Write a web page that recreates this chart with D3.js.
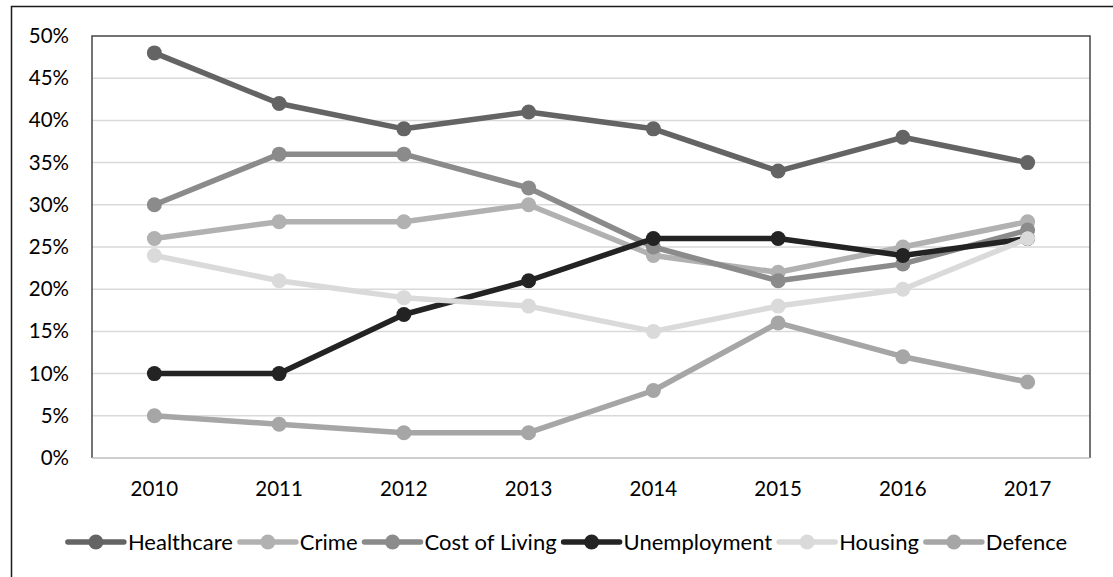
<!DOCTYPE html>
<html>
<head>
<meta charset="utf-8">
<script src="https://cdn.jsdelivr.net/npm/d3@7"></script>
<style>
  html, body { margin: 0; padding: 0; background: #fff; }
  svg { display: block; font-family: Lato, "Open Sans", sans-serif; }
</style>
</head>
<body>
<svg id="chart" width="1113" height="577"></svg>
<script>
// Survey years and share of respondents naming each issue (%)
const years = ["2010", "2011", "2012", "2013", "2014", "2015", "2016", "2017"];
const healthcare   = [48, 42, 39, 41, 39, 34, 38, 35];
const crime        = [26, 28, 28, 30, 24, 22, 25, 28];
const costOfLiving = [30, 36, 36, 32, 25, 21, 23, 27];
const unemployment = [10, 10, 17, 21, 26, 26, 24, 26];
const housing      = [24, 21, 19, 18, 15, 18, 20, 26];
const defence      = [5, 4, 3, 3, 8, 16, 12, 9];
const yTicks = [0, 5, 10, 15, 20, 25, 30, 35, 40, 45, 50];

const series = [
  { name: "Healthcare",     values: healthcare,   color: "#646464" },
  { name: "Crime",          values: crime,        color: "#b1b1b1" },
  { name: "Cost of Living", values: costOfLiving, color: "#8b8b8b" },
  { name: "Unemployment",   values: unemployment, color: "#232323" },
  { name: "Housing",        values: housing,      color: "#dadada" },
  { name: "Defence",        values: defence,      color: "#a6a6a6" }
];

const FONT = 20.5, LEGEND_FONT = 22;
const svg = d3.select("#chart");
const plotL = 92, plotR = 1090, plotT = 36, plotB = 458;

// outer chart frame
svg.append("rect")
  .attr("x", 11.5).attr("y", 6.5)
  .attr("width", 1200).attr("height", 700)
  .attr("fill", "none").attr("stroke", "#1a1a1a").attr("stroke-width", 1.5);

const x = d3.scaleBand().domain(years).range([plotL, plotR]);
const y = d3.scaleLinear().domain([0, 50]).range([plotB, plotT]);

// horizontal gridlines
svg.append("g").selectAll("line")
  .data(yTicks.filter(t => t > 0 && t < 50))
  .join("line")
  .attr("x1", plotL).attr("x2", plotR)
  .attr("y1", d => y(d)).attr("y2", d => y(d))
  .attr("stroke", "#d9d9d9").attr("stroke-width", 1.5);

// plot-area border (left, top, right)
svg.append("path")
  .attr("d", `M${plotL},${plotB}V${plotT}H${plotR}V${plotB}`)
  .attr("fill", "none").attr("stroke", "#454545").attr("stroke-width", 1.5);

// category axis line
svg.append("line")
  .attr("x1", plotL).attr("x2", plotR)
  .attr("y1", plotB).attr("y2", plotB)
  .attr("stroke", "#bfbfbf").attr("stroke-width", 1.5);

// value axis labels
const yAxis = d3.axisLeft(y).tickValues(yTicks).tickFormat(d => d + "%").tickSize(0).tickPadding(0);
const ya = svg.append("g").attr("transform", `translate(69,0)`).call(yAxis);
ya.select(".domain").remove();
ya.selectAll("text").attr("font-size", FONT).attr("fill", "#000").attr("font-family", "Lato, 'Open Sans', sans-serif");

// category axis labels
const xAxis = d3.axisBottom(x).tickSize(0).tickPadding(0);
const xa = svg.append("g").attr("transform", `translate(0,${plotB + 23})`).call(xAxis);
xa.select(".domain").remove();
xa.selectAll("text").attr("font-size", FONT).attr("fill", "#000").attr("font-family", "Lato, 'Open Sans', sans-serif");

// lines and markers
const cx = d => x(d) + x.bandwidth() / 2;
const line = d3.line().x((d, i) => cx(years[i])).y(d => y(d));
series.forEach(s => {
  const g = svg.append("g");
  g.append("path")
    .attr("d", line(s.values))
    .attr("fill", "none").attr("stroke", s.color)
    .attr("stroke-width", 5.5).attr("stroke-linejoin", "round").attr("stroke-linecap", "round");
  g.selectAll("circle").data(s.values).join("circle")
    .attr("cx", (d, i) => cx(years[i])).attr("cy", d => y(d))
    .attr("r", 7.5).attr("fill", s.color);
});

// legend
const legend = svg.append("g").attr("transform", "translate(0,542)");
const symW = 56, gapText = 4, gapItem = 7;
let pos = 0;
series.forEach(s => {
  const g = legend.append("g");
  g.append("line").attr("x1", 0).attr("x2", symW).attr("y1", 0).attr("y2", 0)
    .attr("stroke", s.color).attr("stroke-width", 5.5).attr("stroke-linecap", "round");
  g.append("circle").attr("cx", symW / 2).attr("cy", 0).attr("r", 7.5).attr("fill", s.color);
  const t = g.append("text").attr("x", symW + gapText).attr("y", 0).attr("dy", "0.35em")
    .attr("font-size", LEGEND_FONT).attr("fill", "#000").text(s.name);
  const w = symW + gapText + t.node().getComputedTextLength();
  g.attr("transform", `translate(${pos},0)`);
  pos += w + gapItem;
});
const total = pos - gapItem;
legend.attr("transform", `translate(${567.5 - total / 2},542)`);
</script>
</body>
</html>
